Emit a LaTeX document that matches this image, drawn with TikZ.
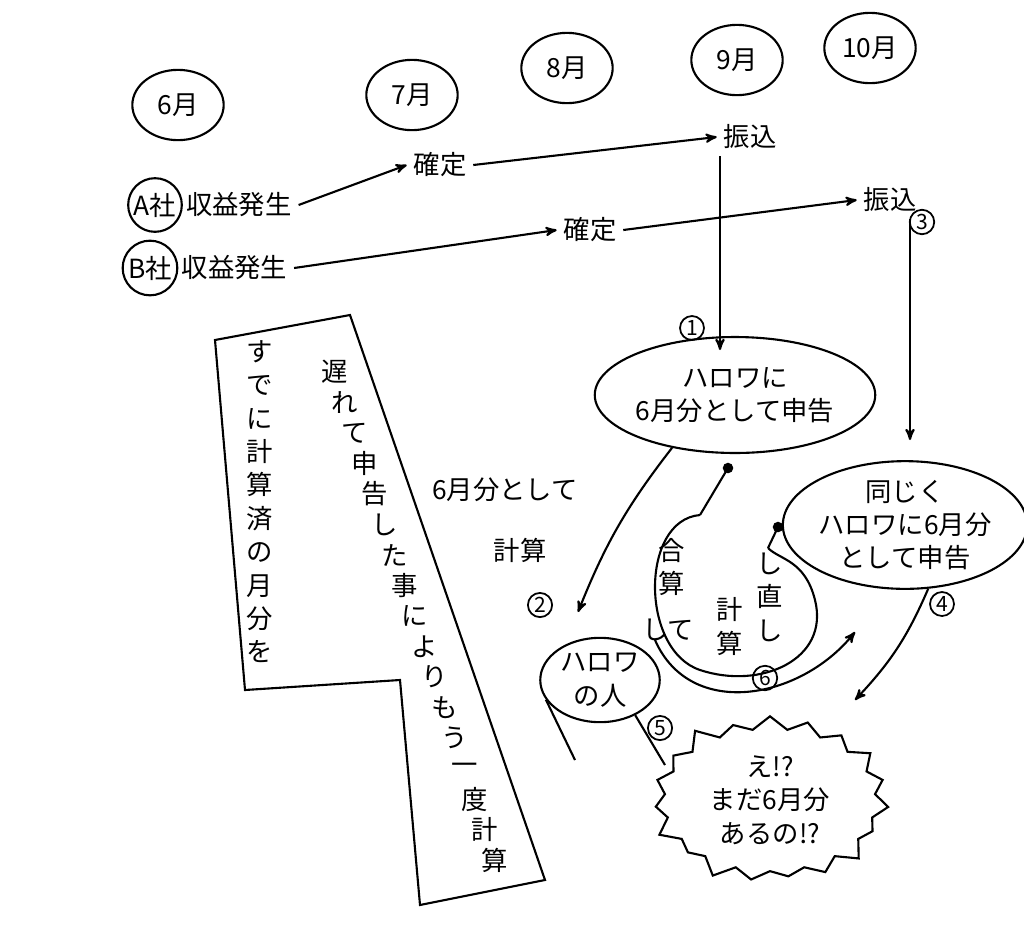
\documentclass[tikz,border=0pt]{standalone}
\usepackage{fontspec}
\setmainfont{Noto Sans CJK JP}
\usetikzlibrary{arrows,shapes,positioning,decorations.pathmorphing}
\tikzset{every node/.style={font=\fontsize{15}{19}\selectfont}}
\tikzset{month/.style={shape=ellipse, draw, line width=1.2pt, inner sep=0pt, minimum width=52pt, minimum height=40pt}}
\tikzset{num/.style={shape=circle, draw, line width=1pt, inner sep=1pt, font=\fontsize{12}{14}\selectfont}}
\tikzset{flow/.style={->, line width=1.2pt, >=stealth'}}
\newcommand{\tate}[1]{\begin{tabular}{@{}c@{}}#1\end{tabular}}

\begin{document}
\begin{tikzpicture}[x=0.02cm, y=-0.02cm, line width=1.2pt]
    \useasboundingbox (0,0) rectangle (1024,934);
    % months
    \node[month] (m6) at (178,105) {6月};
    \node[month] (m7) at (412,95) {7月};
    \node[month] (m8) at (567,68) {8月};
    \node[month] (m9) at (737,60) {9月};
    \node[month] (m10) at (870,48) {10月};
    % A and B
    \node[circle, draw, inner sep=1pt] (ca) at (155,205) {A社};
    \node[right=-2pt of ca] (a) {収益発生};
    \node (ak) at (440,165) {確定};
    \node (af) at (750,137) {振込};
    \node[circle, draw, inner sep=1pt] (cb) at (150,268) {B社};
    \node[right=-2pt of cb] (b) {収益発生};
    \node (bk) at (590,230) {確定};
    \node (bf) at (890,200) {振込};
    \node[num] (n3) at (922,222) {3};
    \draw[flow] (a.east) -- (ak.west);
    \draw[flow] (ak.east) -- (af.west);
    \draw[flow] (b.east) -- (bk.west);
    \draw[flow] (bk.east) -- (bf.west);
    % declarations
    \node[ellipse, draw, inner sep=0pt, minimum width=148pt, minimum height=66pt, align=center] (h1) at (735,395) {ハロワに\\6月分として申告};
    \node[num] (n1) at (692,328) {1};
    \node[ellipse, draw, inner sep=0pt, minimum width=130pt, minimum height=70pt, align=center] (h2) at (905,525) {同じく\\ハロワに6月分\\として申告};
    \draw[flow] (af.south -| 720,0) -- (720,350);
    \draw[flow] (bf.south -| 910,0) -- (910,440);
    % calc
    \node (c1) at (505,490) {6月分として};
    \node (c2) at (520,550) {計算};
    \node[num] (n2) at (540,605) {2};
    \coordinate (c3) at (578,612);
    \draw[flow] (h1.220) to[bend right=8] (c3);
    % recompute blob
    \draw (700,515) .. controls (640,520) and (640,650) .. (700,670)
          .. controls (760,690) and (830,660) .. (815,600)
          .. controls (805,560) and (780,560) .. (768,548);
    \fill (728,468) circle (3pt) (778,527) circle (3pt);
    \draw (728,468) -- (700,515);
    \draw (778,527) -- (768,548);
    \node (r1) at (672,570) {\tate{合\\算}};
    \node (r2) at (668,630) {して};
    \node (r3) at (730,630) {\tate{計\\算}};
    \node (r4) at (770,600) {\tate{し\\直\\し}};
    \node[num] (n6) at (765,678) {6};
    \coordinate (t1) at (855,632);
    \draw[flow] (655,640) .. controls (690,720) and (800,700) .. (t1);
    \coordinate (t2) at (855,700);
    \draw[flow] (h2.-70) to[bend left=10] (t2);
    \node[num] (n4) at (942,604) {4};
    % hello work person
    \node[ellipse, draw, inner sep=0pt, minimum width=68pt, minimum height=48pt, align=center] (p) at (600,680) {ハロワ\\の人};
    \draw (p.200) -- (575,760);
    \draw (p.-45) -- (665,765);
    \node[num] (n5) at (660,728) {5};
    % burst
    \node[starburst, draw, starburst points=19, starburst point height=10pt,
      minimum width=140pt, minimum height=85pt, align=center] (s) at (770,800) {え!?\\まだ6月分\\あるの!?};
    % note box
    \draw (215,340) -- (350,315) -- (545,880) -- (420,905) -- (400,680) -- (245,690) -- cycle;
    \node (v1) at (260,505) {\tate{す\\で\\に\\計\\算\\済\\の\\月\\分\\を}};
    \foreach \ch [count=\i from 0] in {遅,れ,て,申,告,し,た,事,に,よ,り,も,う,一,度,計,算}
      \node (v2-\i) at (335+10*\i, 372+30.5*\i) {\ch};
\end{tikzpicture}
\end{document}
